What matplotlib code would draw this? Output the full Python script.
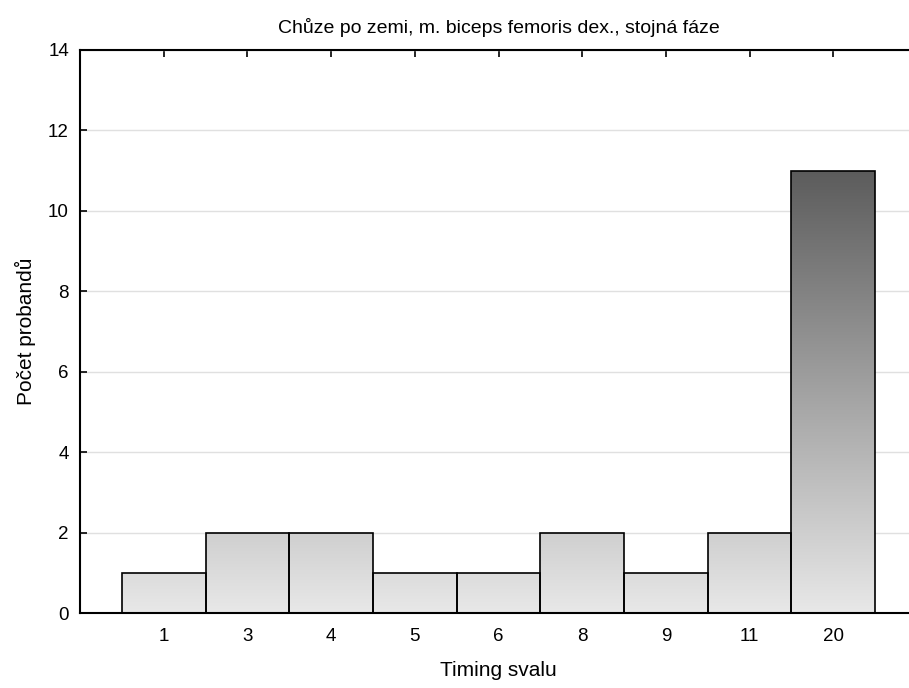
import numpy as np
import matplotlib
matplotlib.use("Agg")
import matplotlib.pyplot as plt
from matplotlib.colors import LinearSegmentedColormap

plt.rcParams['font.family'] = ['Liberation Sans', 'DejaVu Sans']

categories = ["1", "3", "4", "5", "6", "8", "9", "11", "20"]
counts = [1, 2, 2, 1, 1, 2, 1, 2, 11]
yticks = [0, 2, 4, 6, 8, 10, 12, 14]

fig = plt.figure(figsize=(9.09, 6.88), dpi=100)
W, H = 909, 688
left, right, top, bottom = 80, 917, 50, 613
ax = fig.add_axes([left / W, (H - bottom) / H, (right - left) / W, (bottom - top) / H])

x = np.arange(len(categories))
ymax = 14

# vertical gray gradient shared by all bars (light at 0, darker upward)
cmap = LinearSegmentedColormap.from_list("g", ["#e8e8e8", "#5c5c5c"])
grad = np.linspace(0, 1, 256).reshape(-1, 1)

bars = ax.bar(x, counts, width=1.0, color="none", edgecolor="black", linewidth=1.2, zorder=3)
for b, c in zip(bars, counts):
    x0 = b.get_x()
    im = ax.imshow(grad[: int(256 * c / 11.0)], cmap=cmap, vmin=0, vmax=1, aspect="auto",
                   origin="lower", extent=[x0, x0 + b.get_width(), 0, c],
                   interpolation="bilinear", zorder=2)
    im.set_clip_path(b)
ax.set_xlim(-1, len(categories))
ax.set_ylim(0, ymax)

ax.set_yticks(yticks)
ax.yaxis.grid(True, color="#e0e0e0", linewidth=1, zorder=0)
ax.set_axisbelow(True)
ax.set_xticks(x)
ax.set_xticklabels(categories)
ax.tick_params(axis="both", direction="in", length=5, width=1.2, labelsize=13.5, top=True)
ax.tick_params(axis="x", pad=11)
ax.tick_params(axis="y", pad=8)
for s in ax.spines.values():
    s.set_linewidth(1.5)

ax.set_xlabel("Timing svalu", fontsize=15, labelpad=11)
ax.set_ylabel("Počet probandů", fontsize=15, labelpad=9)
ax.set_title("Chůze po zemi, m. biceps femoris dex., stojná fáze", fontsize=14, pad=12)

fig.savefig("out.png", dpi=100)
